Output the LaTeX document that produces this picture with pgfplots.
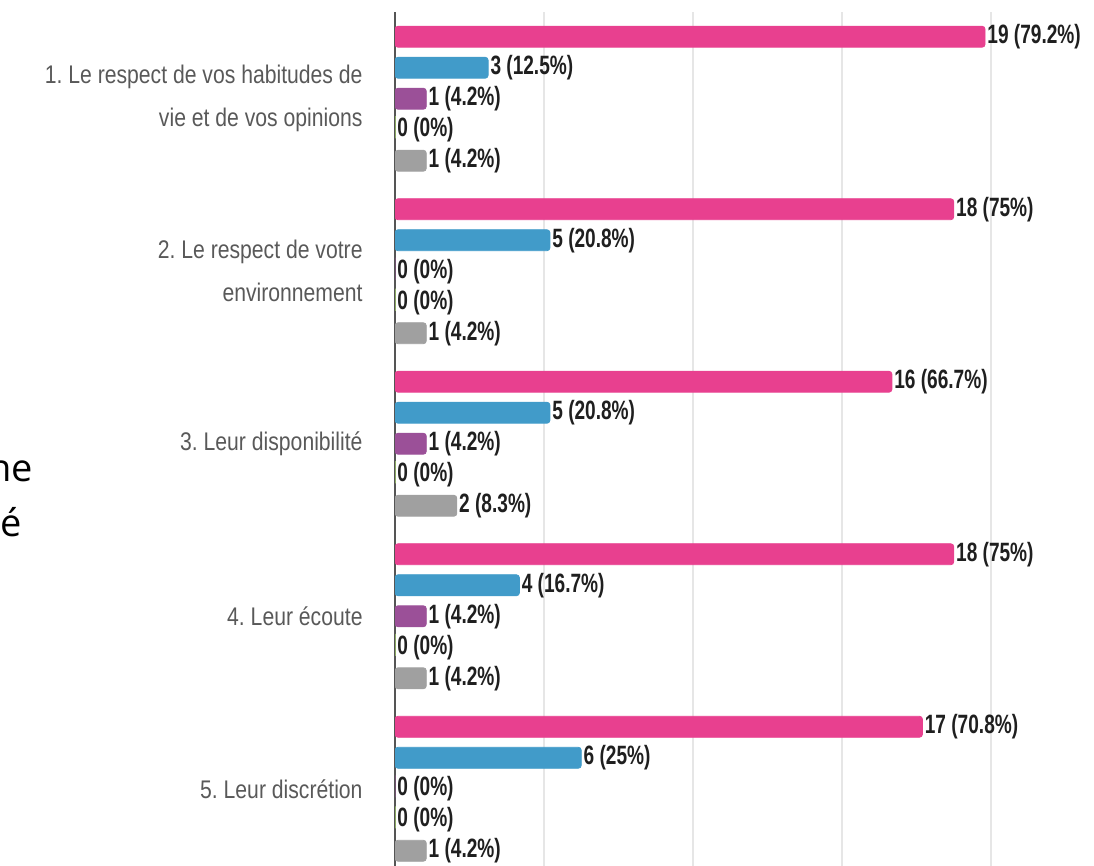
\documentclass[border=0pt]{standalone}
\usepackage{pgfplots}
\pgfplotsset{compat=1.18}
\usepackage{pgfplotstable}
\usepackage{fontspec}
\setmainfont{Liberation Sans}
\newfontfamily\labfont[FakeStretch=0.83]{Liberation Sans}
\newfontfamily\barfont[FakeStretch=0.72]{Liberation Sans}
\newfontfamily\sidefont{Open Sans}
\definecolor{pinkc}{HTML}{E8408F}
\definecolor{bluec}{HTML}{419BC9}
\definecolor{purplec}{HTML}{9B5098}
\definecolor{greenc}{HTML}{A5D36B}
\definecolor{grayc}{HTML}{A0A0A0}
\definecolor{gridc}{HTML}{E6E6E6}
\definecolor{axisc}{HTML}{555555}
\definecolor{labgray}{HTML}{595959}

\pgfplotstableread{
pct grp n
79.2 0 19
75   1 18
66.7 2 16
75   3 18
70.8 4 17
}\pinkdata
\pgfplotstableread{
pct grp n
12.5 0 3
20.8 1 5
20.8 2 5
16.7 3 4
25   4 6
}\bluedata
\pgfplotstableread{
pct grp n
4.2 0 1
0   1 0
4.2 2 1
4.2 3 1
0   4 0
}\purpledata
\pgfplotstableread{
pct grp n
0 0 0
0 1 0
0 2 0
0 3 0
0 4 0
}\greendata
\pgfplotstableread{
pct grp n
4.2 0 1
4.2 1 1
8.3 2 2
4.2 3 1
4.2 4 1
}\graydata

\begin{document}
\frenchspacing
\begin{tikzpicture}[x=1bp,y=1bp]
\clip (0,0) rectangle (1094,866);
\node[anchor=base east, inner sep=0pt, font=\sidefont\fontsize{38bp}{38bp}\selectfont] at (33,384) {ne};
\node[anchor=base east, inner sep=0pt, font=\sidefont\fontsize{38bp}{38bp}\selectfont] at (22,329) {é};
\begin{axis}[
  at={(395bp,853.5bp)}, anchor=north west,
  scale only axis, width=745bp, height=862.5bp,
  xmin=0, xmax=100, ymin=-0.5, ymax=4.5,
  y dir=reverse,
  xbar, bar width=21bp,
  axis y line*=left, axis x line*=bottom,
  x axis line style={draw=none},
  y axis line style={draw=axisc, line width=2.2bp, -},
  xtick={20,40,60,80,100}, xticklabels={},
  xmajorgrids, grid style={draw=gridc, line width=2bp},
  xtick style={draw=none}, ytick style={draw=none},
  ytick={0,1,2,3,4},
  yticklabels={{1. Le respect de vos habitudes de\\vie et de vos opinions},{2. Le respect de votre\\environnement},{3. Leur disponibilité},{4. Leur écoute},{5. Leur discrétion}},
  yticklabel style={align=right, font=\labfont\fontsize{25.5bp}{43bp}\selectfont, text=labgray, inner sep=0pt, xshift=-28bp},
  point meta=explicit symbolic,
  visualization depends on={\thisrow{n} \as \cnt},
  nodes near coords={\pgfmathprintnumber[assume math mode=true, fixed, precision=0]{\cnt} (\pgfplotspointmeta\%)},
  nodes near coords style={font=\barfont\fontsize{26.5bp}{28bp}\bfseries, text=black!88, anchor=west, inner sep=2bp},
  every axis plot/.append style={line width=0.8bp, rounded corners=3bp},
]
\addplot[fill=pinkc, draw=pinkc, bar shift=62bp] table[x=pct, y=grp, meta=pct] {\pinkdata};
\addplot[fill=bluec, draw=bluec, bar shift=31bp] table[x=pct, y=grp, meta=pct] {\bluedata};
\addplot[fill=purplec, draw=purplec, bar shift=0bp] table[x=pct, y=grp, meta=pct] {\purpledata};
\addplot[fill=greenc, draw=greenc, bar shift=-31bp] table[x=pct, y=grp, meta=pct] {\greendata};
\addplot[fill=grayc, draw=grayc, bar shift=-62bp] table[x=pct, y=grp, meta=pct] {\graydata};
\end{axis}
\end{tikzpicture}
\end{document}
